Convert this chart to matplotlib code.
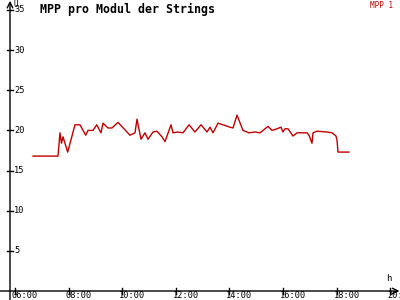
#!/usr/bin/env python3
"""MPP pro Modul der Strings - daily curve."""
import matplotlib
matplotlib.use("Agg")
import matplotlib.pyplot as plt

# time of day in hours, values in V
hours = [6.672, 7.604, 7.679, 7.735, 7.791, 7.966, 8.239, 8.425, 8.638, 8.724,
         8.910, 9.049, 9.209, 9.284, 9.470, 9.619, 9.843, 10.291, 10.478, 10.552,
         10.701, 10.851, 10.963, 11.149, 11.299, 11.485, 11.597, 11.821, 11.896,
         12.082, 12.269, 12.493, 12.716, 12.940, 13.164, 13.276, 13.388, 13.575,
         13.761, 14.022, 14.134, 14.284, 14.507, 14.731, 14.955, 15.142, 15.254,
         15.440, 15.590, 15.776, 15.925, 16.000, 16.075, 16.187, 16.373, 16.522,
         16.896, 16.970, 17.082, 17.119, 17.269, 17.642, 17.828, 17.978, 18.015,
         18.052, 18.463]
mpp1 = [16.8, 16.8, 19.7, 18.4, 19.2, 17.3, 20.7, 20.7, 19.4, 20.0,
        20.0, 20.7, 19.7, 20.9, 20.3, 20.3, 21.0, 19.4, 19.7, 21.4,
        18.9, 19.7, 18.9, 19.8, 19.9, 19.2, 18.6, 20.7, 19.7,
        19.8, 19.7, 20.7, 19.8, 20.7, 19.8, 20.4, 19.7, 20.9,
        20.7, 20.4, 20.3, 21.9, 20.0, 19.7, 19.8, 19.7, 20.0,
        20.5, 20.0, 20.2, 20.4, 19.8, 20.2, 20.2, 19.3, 19.7,
        19.7, 19.4, 18.4, 19.7, 19.9, 19.8, 19.7, 19.3, 18.8,
        17.3, 17.3]

xticks = [6, 8, 10, 12, 14, 16, 18, 20]
xlabels = ["06:00", "08:00", "10:00", "12:00", "14:00", "16:00", "18:00", "20:"]
yticks = [5, 10, 15, 20, 25, 30, 35]

RED = "#c00000"
MONO = "DejaVu Sans Mono"

fig = plt.figure(figsize=(4, 3), dpi=100)
ax = fig.add_axes([0, 0, 1, 1])
px_per_h = 26.8
px_per_v = 8.03
x0 = 6 - 15 / px_per_h
x1 = 6 + 385 / px_per_h
bottom = -9 / px_per_v
top = 291 / px_per_v
ax.set_xlim(x0, x1)
ax.set_ylim(bottom, top)
ax.axis("off")

yaxis_x = 6 - 5 / px_per_h

# axes with open arrow heads
ax.annotate("", xy=(yaxis_x, top - 0.1), xytext=(yaxis_x, bottom),
            arrowprops=dict(arrowstyle="->", color="black", lw=1,
                            shrinkA=0, shrinkB=0))
ax.annotate("", xy=(x1 - 0.02, 0), xytext=(x0, 0),
            arrowprops=dict(arrowstyle="->", color="black", lw=1,
                            shrinkA=0, shrinkB=0))

dx = 3 / px_per_h
dy = 3 / px_per_v
for v in yticks:
    ax.plot([yaxis_x - dx, yaxis_x + dx], [v, v], color="black", lw=1)
    ax.text(yaxis_x + 4 / px_per_h, v, str(v), fontsize=6.2, family=MONO,
            ha="left", va="center")
for h, lab in zip(xticks, xlabels):
    ax.plot([h, h], [-dy, dy], color="black", lw=1)
    ax.text(h - 3 / px_per_h, -7.5 / px_per_v, lab, fontsize=6.2, family=MONO,
            ha="left", va="baseline")

ax.text(yaxis_x + 3 / px_per_h, top - 0.5, "U", fontsize=5.5, family=MONO,
        ha="left", va="center")
ax.text(x1 - 14 / px_per_h, 1.5, "h", fontsize=6.5, family=MONO,
        ha="left", va="center")

ax.plot(hours, mpp1, color=RED, lw=1)

fig.text(40 / 400, 1 - 9 / 300, "MPP pro Modul der Strings", fontsize=8.4,
         family=MONO, weight="bold", ha="left", va="center")
fig.text(393 / 400, 1 - 5 / 300, "MPP 1", fontsize=5.5, family=MONO,
         color=RED, ha="right", va="center")

fig.savefig("out.png", dpi=100)
plt.close(fig)
